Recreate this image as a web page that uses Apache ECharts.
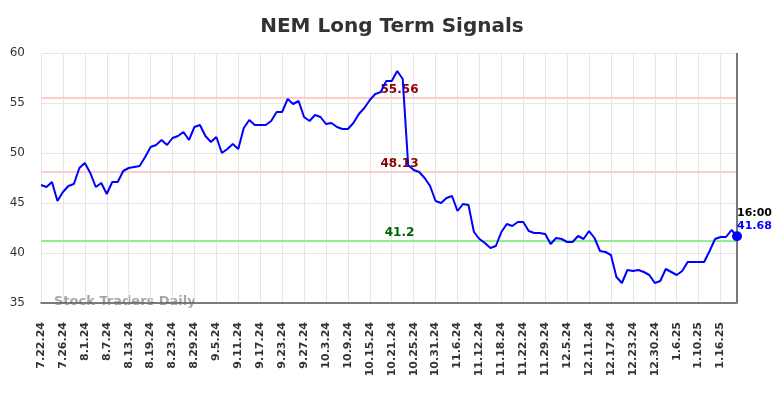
<!DOCTYPE html>
<html>
<head>
<meta charset="utf-8">
<script src="https://cdn.jsdelivr.net/npm/echarts@6/dist/echarts.min.js"></script>
<style>html,body{margin:0;padding:0;background:#fff}#c{width:784px;height:398px}</style>
</head>
<body>
<div id="c"></div>
<script>
const dates = ["7.22.24","7.23.24","7.24.24","7.25.24","7.26.24","7.29.24","7.30.24","7.31.24","8.1.24","8.2.24",
"8.5.24","8.6.24","8.7.24","8.8.24","8.9.24","8.12.24","8.13.24","8.14.24","8.15.24","8.16.24",
"8.19.24","8.20.24","8.21.24","8.22.24","8.23.24","8.26.24","8.27.24","8.28.24","8.29.24","8.30.24",
"9.3.24","9.4.24","9.5.24","9.6.24","9.9.24","9.10.24","9.11.24","9.12.24","9.13.24","9.16.24",
"9.17.24","9.18.24","9.19.24","9.20.24","9.23.24","9.24.24","9.25.24","9.26.24","9.27.24","9.30.24",
"10.1.24","10.2.24","10.3.24","10.4.24","10.7.24","10.8.24","10.9.24","10.10.24","10.11.24","10.14.24",
"10.15.24","10.16.24","10.17.24","10.18.24","10.21.24","10.22.24","10.23.24","10.24.24","10.25.24","10.28.24",
"10.29.24","10.30.24","10.31.24","11.1.24","11.4.24","11.5.24","11.6.24","11.7.24","11.8.24","11.11.24",
"11.12.24","11.13.24","11.14.24","11.15.24","11.18.24","11.19.24","11.20.24","11.21.24","11.22.24","11.25.24",
"11.26.24","11.27.24","11.29.24","12.2.24","12.3.24","12.4.24","12.5.24","12.6.24","12.9.24","12.10.24",
"12.11.24","12.12.24","12.13.24","12.16.24","12.17.24","12.18.24","12.19.24","12.20.24","12.23.24","12.24.24",
"12.26.24","12.27.24","12.30.24","12.31.24","1.2.25","1.3.25","1.6.25","1.7.25","1.8.25","1.9.25",
"1.10.25","1.13.25","1.14.25","1.15.25","1.16.25","1.17.25","1.21.25","1.22.25"];
const prices = [46.8,46.6,47.1,45.2,46.1,46.7,46.9,48.5,49.0,48.0,
46.6,47.0,45.9,47.1,47.1,48.2,48.5,48.6,48.7,49.6,
50.6,50.8,51.3,50.8,51.5,51.7,52.1,51.3,52.6,52.8,
51.7,51.1,51.6,50.0,50.4,50.9,50.4,52.5,53.3,52.8,
52.8,52.8,53.2,54.1,54.1,55.4,54.9,55.2,53.6,53.2,
53.8,53.6,52.9,53.0,52.6,52.4,52.4,53.0,53.9,54.5,
55.3,55.9,56.1,57.2,57.2,58.2,57.4,48.8,48.3,48.1,
47.5,46.7,45.2,45.0,45.5,45.7,44.2,44.9,44.8,42.1,
41.4,41.0,40.5,40.7,42.1,42.9,42.7,43.1,43.1,42.2,
42.0,42.0,41.9,40.9,41.5,41.4,41.1,41.1,41.7,41.4,
42.2,41.5,40.2,40.1,39.8,37.6,37.0,38.3,38.2,38.3,
38.1,37.8,37.0,37.2,38.4,38.1,37.8,38.2,39.1,39.1,
39.1,39.1,40.2,41.4,41.6,41.6,42.3,41.68];
const upperLevels = [55.56, 48.13];
const lowerLevels = [41.2];
const lastTimeLabel = "16:00";
const yTicks = {min: 35, max: 60, interval: 5};
const titleText = "NEM Long Term Signals";
const watermark = "Stock Traders Daily";

const chart = echarts.init(document.getElementById('c'));
const lastIdx = prices.length - 1;
const lvlLabel = (color) => ({
  show: true, position: 'insideMiddleTop', color: color, fontWeight: 'bold',
  fontSize: 12, fontFamily: 'DejaVu Sans', padding: [0, 0, 0, 21], distance: 2,
  formatter: (p) => String(p.value)
});
chart.setOption({
  animation: false,
  title: {text: titleText, left: 'center', top: 12,
    textStyle: {fontSize: 20, fontWeight: 'bold', color: '#333', fontFamily: 'DejaVu Sans'}},
  grid: {left: 41, right: 47, top: 53, bottom: 95},
  graphic: [{type: 'text', left: 54, top: 295, silent: true,
    style: {text: watermark, fill: 'rgba(150,150,150,0.85)', font: 'bold 13px "DejaVu Sans"'}}],
  xAxis: {
    type: 'category', data: dates, boundaryGap: false,
    axisLine: {lineStyle: {color: '#555', width: 1.5}},
    axisTick: {show: false},
    axisLabel: {interval: 3, rotate: 90, margin: 19, color: '#333', fontSize: 11,
      fontWeight: 'bold', fontFamily: 'DejaVu Sans'},
    splitLine: {show: true, interval: 3, lineStyle: {color: '#e6e6e6', width: 1}}
  },
  yAxis: {
    type: 'value', min: yTicks.min, max: yTicks.max, interval: yTicks.interval,
    axisLine: {show: false}, axisTick: {show: false},
    axisLabel: {color: '#333', fontSize: 12, margin: 16, fontFamily: 'DejaVu Sans'},
    splitLine: {lineStyle: {color: '#e6e6e6', width: 1}}
  },
  series: [{
    type: 'line', data: prices, showSymbol: false, symbol: 'none',
    lineStyle: {color: '#0000ff', width: 2}, itemStyle: {color: '#0000ff'},
    z: 5,
    markLine: {
      silent: true, symbol: 'none',
      data: [
        ...upperLevels.map(v => ({yAxis: v, lineStyle: {color: '#ffcccc', width: 2, type: 'solid'}, label: lvlLabel('#8b0000')})),
        ...lowerLevels.map(v => ({yAxis: v, lineStyle: {color: '#90ee90', width: 2, type: 'solid'}, label: lvlLabel('#006400')})),
        {xAxis: dates[lastIdx], lineStyle: {color: '#777', width: 2, type: 'solid'}, label: {show: false}}
      ]
    },
    markPoint: {
      silent: true,
      data: [{coord: [lastIdx, prices[lastIdx]], symbol: 'circle', symbolSize: 10,
        itemStyle: {color: '#0000ff'},
        label: {show: true, position: [5, -25], align: 'left', verticalAlign: 'top',
          formatter: '{t|' + lastTimeLabel + '}\n{v|' + prices[lastIdx] + '}',
          rich: {
            t: {color: '#000', fontWeight: 'bold', fontSize: 11, lineHeight: 13, fontFamily: 'DejaVu Sans'},
            v: {color: '#0000ff', fontWeight: 'bold', fontSize: 11, lineHeight: 13, fontFamily: 'DejaVu Sans'}
          }}}]
    }
  }]
});
</script>
</body>
</html>
